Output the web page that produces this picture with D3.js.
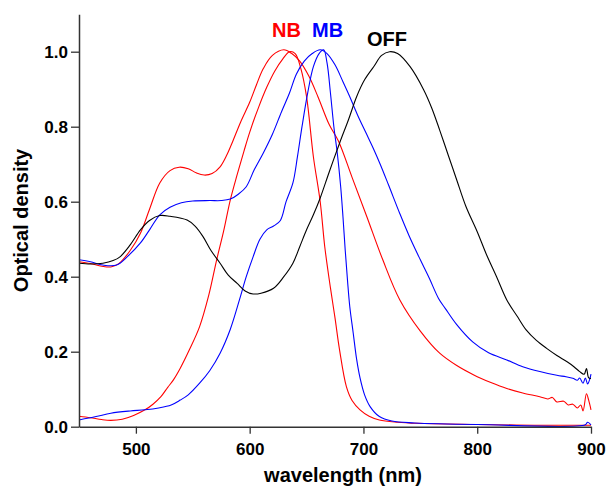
<!DOCTYPE html>
<html>
<head>
<meta charset="utf-8">
<script src="https://cdn.jsdelivr.net/npm/d3@7"></script>
<style>
  body { margin: 0; background: #fff; }
  svg { display: block; font-family: "Liberation Sans", Arial, sans-serif; }
</style>
</head>
<body>
<script>
// spectra as [wavelength nm, optical density]
const nbWide = [[450,0.44],[460,0.435],[470,0.428],[478,0.426],[485,0.435],[495,0.47],[504,0.516],[512,0.58],[521,0.65],[530,0.683],[538,0.692],[546,0.688],[553,0.677],[560,0.671],[567,0.675],[574,0.693],[580,0.725],[585,0.76],[592,0.812],[600,0.865],[606,0.912],[612,0.955],[620,0.99],[630,1.005],[637,0.995],[644,0.975],[652,0.935],[660,0.88],[670,0.805],[678,0.762],[690,0.665],[703,0.56],[717,0.445],[732,0.338],[750,0.255],[767,0.196],[782,0.163],[797,0.138],[812,0.118],[826,0.102],[840,0.09],[855,0.08],[862,0.074],[866,0.078],[870,0.066],[876,0.068],[880,0.058],[884,0.06],[888,0.05],[891,0.058],[893,0.042],[896,0.088],[898,0.07],[900,0.045]];
const nbNarrow = [[450,0.028],[460,0.024],[470,0.019],[478,0.017],[488,0.02],[498,0.03],[508,0.045],[515,0.06],[522,0.08],[528,0.105],[533,0.125],[539,0.156],[547,0.205],[556,0.267],[564,0.35],[571,0.445],[577,0.52],[583,0.605],[589,0.672],[595,0.735],[600,0.785],[608,0.853],[615,0.905],[622,0.948],[629,0.98],[635,1.0],[640,0.995],[645,0.955],[650,0.88],[656,0.72],[662,0.6],[666,0.48],[671,0.37],[675,0.29],[679,0.205],[685,0.107],[690,0.07],[697,0.045],[705,0.028],[714,0.018],[730,0.012],[747,0.009],[800,0.006],[850,0.004],[900,0.004]];
const mbWide = [[450,0.445],[460,0.44],[471,0.431],[483,0.431],[493,0.455],[504,0.49],[512,0.525],[521,0.565],[530,0.585],[540,0.597],[550,0.602],[565,0.603],[575,0.603],[583,0.607],[590,0.62],[597,0.64],[604,0.685],[612,0.73],[620,0.78],[628,0.84],[635,0.89],[641,0.94],[648,0.975],[655,0.995],[662,1.005],[668,0.995],[675,0.965],[682,0.92],[688,0.88],[695,0.83],[702,0.785],[709,0.74],[715,0.698],[722,0.645],[732,0.568],[740,0.51],[750,0.445],[758,0.395],[766,0.342],[772,0.315],[782,0.272],[796,0.226],[810,0.197],[826,0.178],[840,0.16],[855,0.147],[870,0.137],[878,0.133],[884,0.129],[888,0.124],[890,0.13],[893,0.116],[895,0.13],[897,0.114],[899,0.128],[900,0.14]];
const mbNarrow = [[450,0.018],[465,0.027],[478,0.036],[495,0.042],[508,0.045],[520,0.05],[531,0.058],[539,0.071],[546,0.085],[556,0.116],[565,0.15],[574,0.196],[583,0.26],[591,0.338],[597,0.4],[603,0.453],[609,0.5],[615,0.525],[621,0.535],[627,0.55],[632,0.6],[638,0.65],[642,0.72],[646,0.8],[651,0.89],[656,0.96],[661,0.995],[665,1.005],[668,0.97],[671,0.89],[674,0.8],[677,0.73],[680,0.64],[682,0.56],[684,0.47],[686,0.39],[688,0.32],[691,0.25],[694,0.18],[697,0.13],[701,0.085],[706,0.053],[714,0.027],[725,0.015],[745,0.01],[800,0.006],[895,0.005],[897,0.012],[900,0.005]];
const off = [[450,0.436],[460,0.434],[471,0.436],[480,0.443],[486,0.453],[495,0.485],[504,0.525],[512,0.55],[521,0.563],[530,0.561],[545,0.551],[552,0.535],[559,0.507],[566,0.47],[574,0.436],[581,0.405],[589,0.382],[596,0.362],[603,0.354],[610,0.356],[621,0.369],[630,0.4],[638,0.436],[644,0.48],[650,0.525],[656,0.565],[662,0.61],[670,0.68],[679,0.756],[687,0.82],[694,0.88],[701,0.925],[709,0.96],[716,0.99],[723,1.0],[730,0.995],[741,0.96],[753,0.898],[760,0.85],[767,0.791],[775,0.72],[782,0.658],[790,0.588],[800,0.52],[808,0.46],[817,0.4],[826,0.338],[835,0.295],[843,0.258],[852,0.23],[861,0.209],[870,0.19],[879,0.173],[885,0.16],[890,0.147],[894,0.14],[896,0.155],[898,0.13],[900,0.129]];

const xTicks = [500, 600, 700, 800, 900];
const xMinor = [450, 550, 650, 750, 850];
const yTicks = [0, 0.2, 0.4, 0.6, 0.8, 1.0];
const yMinor = [0.1, 0.3, 0.5, 0.7, 0.9, 1.1];

const series = [
  {name: "NB", color: "#ff0000", data: nbWide},
  {name: "NB", color: "#ff0000", data: nbNarrow},
  {name: "MB", color: "#0000ff", data: mbWide},
  {name: "MB", color: "#0000ff", data: mbNarrow},
  {name: "OFF", color: "#000000", data: off}
];

const width = 608, height = 487;
const margin = {top: 14.2, right: 17, bottom: 60.3, left: 79};

const svg = d3.select("body").append("svg")
    .attr("width", width)
    .attr("height", height);

const x = d3.scaleLinear().domain([450, 900]).range([margin.left, width - margin.right]);
const y = d3.scaleLinear().domain([0, 1.1]).range([height - margin.bottom, margin.top]);

const line = d3.line()
    .x(d => x(d[0]))
    .y(d => y(d[1]))
    .curve(d3.curveCatmullRom.alpha(0.5));

svg.append("g")
    .attr("fill", "none")
    .attr("stroke-width", 1.1)
    .selectAll("path")
    .data(series)
    .join("path")
    .attr("stroke", d => d.color)
    .attr("d", d => line(d.data));

// axes
const axisColor = "#333";

const gx = svg.append("g").attr("transform", `translate(0,${y(0)})`);
gx.call(d3.axisBottom(x).tickValues(xMinor).tickSize(4).tickFormat(""));
gx.call(d3.axisBottom(x).tickValues(xTicks).tickSize(7).tickPadding(9).tickSizeOuter(0).tickFormat(d3.format("d")));

const gy = svg.append("g").attr("transform", `translate(${x(450)},0)`);
gy.call(d3.axisLeft(y).tickValues(yMinor).tickSize(4).tickFormat(""));
gy.call(d3.axisLeft(y).tickValues(yTicks).tickSize(8).tickPadding(3).tickSizeOuter(0).tickFormat(d3.format(".1f")));

svg.selectAll(".domain").attr("stroke", axisColor).attr("stroke-width", 1.5);
svg.selectAll(".tick line").attr("stroke", axisColor).attr("stroke-width", 1.3);
svg.selectAll(".tick text")
    .attr("fill", "#000")
    .style("font-size", "17px")
    .style("font-weight", "bold")
    .style("font-family", "'Liberation Sans', Arial, sans-serif");

// axis titles
svg.append("text")
    .attr("x", 343)
    .attr("y", 482)
    .attr("text-anchor", "middle")
    .style("font-size", "20px")
    .style("font-weight", "bold")
    .text("wavelength (nm)");

svg.append("text")
    .attr("transform", `translate(28,${(y(0) + y(1.1)) / 2}) rotate(-90)`)
    .attr("text-anchor", "middle")
    .style("font-size", "20px")
    .style("font-weight", "bold")
    .text("Optical density");

// curve labels
const labels = [
  {text: "NB", color: "#ff0000", x: 272, y: 37},
  {text: "MB", color: "#0000ff", x: 312, y: 37},
  {text: "OFF", color: "#000000", x: 367, y: 46}
];
svg.append("g")
    .selectAll("text")
    .data(labels)
    .join("text")
    .attr("x", d => d.x)
    .attr("y", d => d.y)
    .attr("fill", d => d.color)
    .style("font-size", "20px")
    .style("font-weight", "bold")
    .text(d => d.text);
</script>
</body>
</html>
